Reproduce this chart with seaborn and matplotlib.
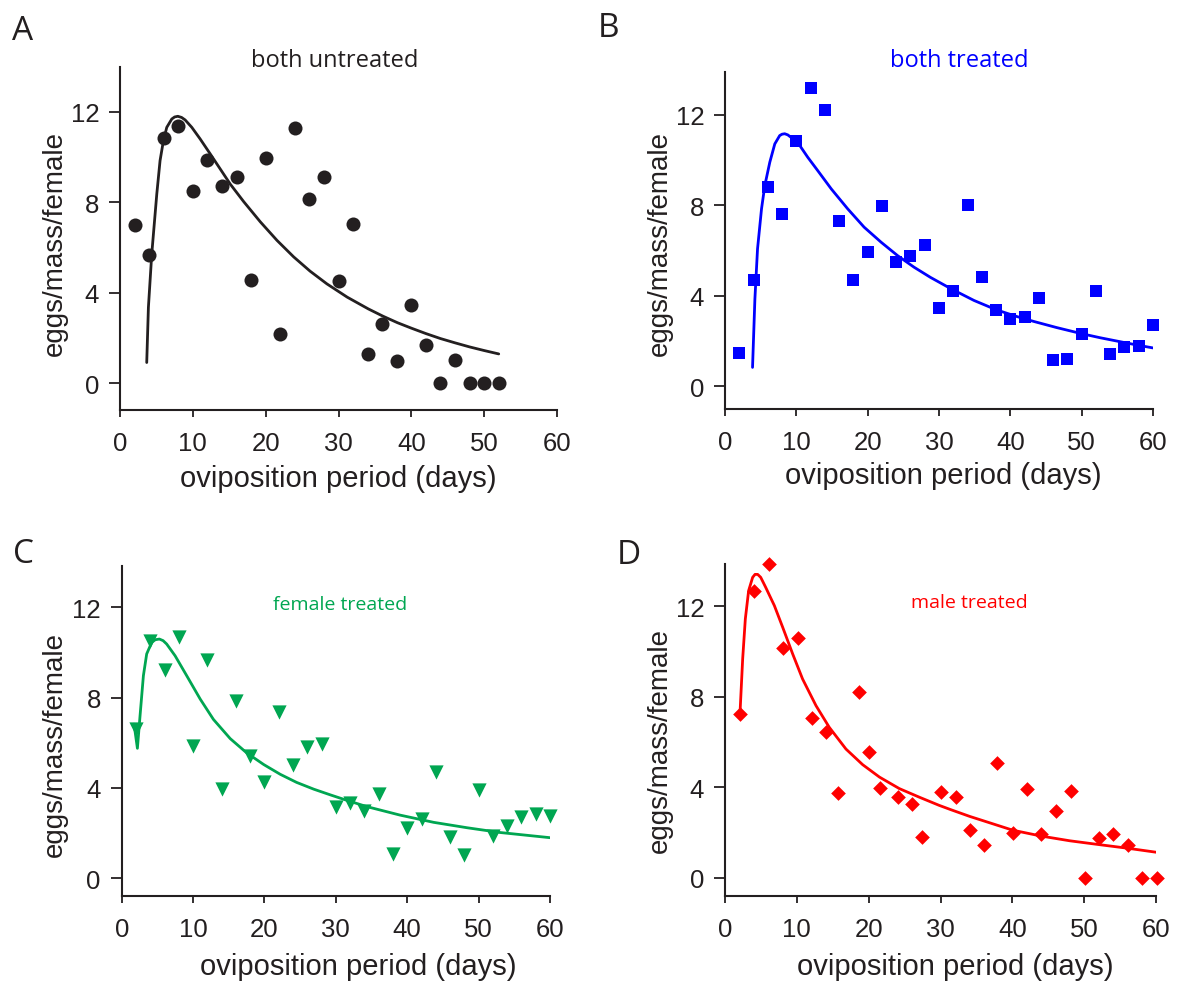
import matplotlib
matplotlib.use("Agg")
import matplotlib.pyplot as plt
import seaborn as sns

# ---------------- data ----------------
days_A = [2, 4, 6, 8, 10, 12, 14, 16, 18, 20, 22, 24, 26, 28, 30, 32, 34, 36,
          38, 40, 42, 44, 46, 48, 50, 52]
eggs_A = [7.0, 5.65, 10.85, 11.35, 8.5, 9.85, 8.7, 9.1, 4.55, 9.95, 2.15, 11.3,
          8.15, 9.1, 4.5, 7.05, 1.3, 2.6, 0.97, 3.45, 1.67, 0.0, 1.0, 0.0, 0.0, 0.0]
fit_days_A = [3.67, 3.9, 4.36, 5.05, 5.5, 5.96, 6.42, 7.11, 7.5, 7.94, 8.45, 8.94,
              9.86, 11.0, 12.4, 13.76, 15.14, 16.97, 19.27, 21.56, 23.85, 26.1,
              28.4, 31.2, 34.1, 36.1, 38.1, 40.0, 42.0, 44.0, 46.0, 48.0, 50.0, 52.0]
fit_eggs_A = [0.91, 3.35, 5.71, 8.36, 9.84, 10.72, 11.31, 11.68, 11.77, 11.8, 11.75,
              11.64, 11.31, 10.8, 10.13, 9.47, 8.8, 8.03, 7.13, 6.31, 5.58, 4.95,
              4.39, 3.8, 3.28, 2.96, 2.67, 2.43, 2.19, 1.97, 1.78, 1.6, 1.44, 1.29]

days_B = [2, 4, 6, 8, 10, 12, 14, 16, 18, 20, 22, 24, 26, 28, 30, 32, 34, 36,
          38, 40, 42, 44, 46, 48, 50, 52, 54, 56, 58, 60]
eggs_B = [1.46, 4.69, 8.8, 7.61, 10.84, 13.19, 12.23, 7.3, 4.69, 5.94, 7.99, 5.5,
          5.78, 6.25, 3.47, 4.2, 8.0, 4.85, 3.36, 3.0, 3.08, 3.89, 1.15, 1.19,
          2.3, 4.23, 1.42, 1.74, 1.8, 2.73]
fit_days_B = [3.86, 4.19, 4.56, 5.12, 5.58, 6.28, 6.98, 7.67, 8.0, 8.37, 8.8, 9.3,
              10.2, 11.6, 13.0, 14.9, 17.2, 19.5, 21.9, 24.2, 26.5, 28.8, 31.6,
              34.9, 38.0, 40.9, 43.3, 46.5, 50.0, 52.6, 55.8, 57.9, 60.0]
fit_eggs_B = [0.84, 3.86, 6.08, 7.85, 8.88, 9.91, 10.72, 11.09, 11.15, 11.17, 11.12,
              11.0, 10.78, 10.13, 9.54, 8.73, 7.85, 7.04, 6.37, 5.78, 5.27, 4.82,
              4.33, 3.8, 3.39, 3.09, 2.87, 2.6, 2.33, 2.15, 1.95, 1.82, 1.7]

days_C = [2, 4, 6, 8, 10, 12, 14, 16, 18, 20, 22, 24, 26, 28, 30, 32, 34, 36,
          38, 40, 42, 44, 46, 48, 50, 52, 54, 56, 58, 60]
eggs_C = [6.6, 10.5, 9.23, 10.66, 5.86, 9.67, 3.94, 7.86, 5.39, 4.24, 7.37, 5.02,
          5.83, 5.94, 3.15, 3.31, 2.98, 3.72, 1.06, 2.22, 2.64, 4.68, 1.83, 1.03,
          3.9, 1.85, 2.32, 2.72, 2.82, 2.73]
fit_days_C = [1.73, 2.2, 2.57, 3.04, 3.5, 4.2, 4.7, 5.28, 5.8, 6.3, 7.48, 9.1, 11.0,
              12.85, 15.2, 17.5, 19.9, 22.2, 24.5, 26.9, 29.2, 31.3, 34.3, 39.0,
              43.7, 48.4, 53.0, 60.0]
fit_eggs_C = [6.82, 5.75, 7.19, 8.97, 9.93, 10.44, 10.56, 10.59, 10.52, 10.37, 9.85,
              8.97, 7.93, 7.03, 6.18, 5.55, 5.03, 4.6, 4.24, 3.94, 3.69, 3.47, 3.17,
              2.79, 2.47, 2.23, 2.02, 1.79]

days_D = [2.1, 4.1, 6.1, 8.1, 10.1, 12.1, 14.05, 15.7, 18.6, 20.1, 21.6, 24.05,
          26.05, 27.4, 30.05, 32.1, 34.05, 36.05, 37.9, 40.05, 42.1, 44.05, 46.1,
          48.1, 50.1, 52.1, 54.05, 56.05, 58.1, 60.1]
eggs_D = [7.25, 12.67, 13.88, 10.15, 10.6, 7.06, 6.46, 3.73, 8.23, 5.55, 3.95,
          3.58, 3.26, 1.82, 3.78, 3.58, 2.12, 1.45, 5.09, 1.96, 3.92, 1.93, 2.94,
          3.85, 0.0, 1.74, 1.95, 1.46, 0.0, 0.0]
fit_days_D = [2.09, 2.46, 2.83, 3.29, 3.85, 4.18, 4.55, 4.97, 5.66, 6.87, 8.03, 9.42,
              10.8, 12.67, 14.52, 16.84, 19.16, 21.5, 24.27, 27.05, 29.8, 31.5,
              34.06, 40.05, 44.0, 48.0, 52.1, 56.06, 60.1]
fit_eggs_D = [7.29, 9.68, 11.45, 12.7, 13.29, 13.42, 13.42, 13.29, 12.85, 12.04,
              11.08, 9.9, 8.79, 7.61, 6.65, 5.69, 5.0, 4.45, 3.94, 3.56, 3.2, 3.0,
              2.71, 2.1, 1.84, 1.63, 1.46, 1.3, 1.12]

panel_letters = ["A", "B", "C", "D"]
panel_titles = ["both untreated", "both treated", "female treated", "male treated"]
x_ticks = [0, 10, 20, 30, 40, 50, 60]
y_ticks = [0, 4, 8, 12]
x_label = "oviposition period (days)"
y_label = "eggs/mass/female"

# ---------------- style ----------------
sns.set_theme(style="ticks")
plt.rcParams["font.family"] = ["Liberation Sans", "DejaVu Sans"]
INK = "#231f20"
plt.rcParams["axes.edgecolor"] = INK
plt.rcParams["text.color"] = INK
plt.rcParams["lines.solid_capstyle"] = "round"
plt.rcParams["lines.solid_joinstyle"] = "round"
TITLE_FONT = ["Open Sans", "DejaVu Sans"]

W, H = 1191, 987
fig = plt.figure(figsize=(W / 100, H / 100), dpi=100)

panels = [
    dict(days=days_A, eggs=eggs_A, fx=fit_days_A, fy=fit_eggs_A, color=INK,
         marker="o", s=102, box=(120, 557, 68, 411), ylim=(-1.19, 13.98),
         title_xy=(0.492, 1.003), title_size=17, xlab=(0.5, -0.157),
         ylab=(-0.119, 0.488), letter_xy=(12, 40)),
    dict(days=days_B, eggs=eggs_B, fx=fit_days_B, fy=fit_eggs_B, color="#0000ff",
         marker="s", s=68, box=(725, 1153, 73, 410), ylim=(-1.0, 13.9),
         title_xy=(0.547, 1.018), title_size=17, xlab=(0.51, -0.155),
         ylab=(-0.121, 0.493), letter_xy=(598, 37)),
    dict(days=days_C, eggs=eggs_C, fx=fit_days_C, fy=fit_eggs_C, color="#00a651",
         marker="v", s=105, box=(121.7, 550, 566.7, 896.7), ylim=(-0.78, 13.84),
         title_xy=(0.51, 0.869), title_size=14, xlab=(0.552, -0.17),
         ylab=(-0.125, 0.46), letter_xy=(13, 563)),
    dict(days=days_D, eggs=eggs_D, fx=fit_days_D, fy=fit_eggs_D, color="#ff0000",
         marker="D", s=56, box=(725, 1156, 565, 896.7), ylim=(-0.8, 13.88),
         title_xy=(0.566, 0.870), title_size=14, xlab=(0.534, -0.17),
         ylab=(-0.12, 0.472), letter_xy=(617, 564)),
]

for p, letter, title in zip(panels, panel_letters, panel_titles):
    x0, x1, yt, yb = p["box"]
    ax = fig.add_axes([x0 / W, 1 - yb / H, (x1 - x0) / W, (yb - yt) / H])
    sns.lineplot(x=p["fx"], y=p["fy"], ax=ax, color=p["color"], lw=2.0,
                 sort=False, estimator=None, zorder=2)
    sns.scatterplot(x=p["days"], y=p["eggs"], ax=ax, color=p["color"],
                    marker=p["marker"], s=p["s"], linewidth=0, zorder=3,
                    clip_on=False)
    ax.set_xlim(0, 60)
    ax.set_ylim(*p["ylim"])
    ax.set_xticks(x_ticks)
    ax.set_yticks(y_ticks)
    sns.despine(ax=ax)
    for sp in ax.spines.values():
        sp.set_linewidth(1.5)
        sp.set_color(INK)
    ax.tick_params(axis="x", length=5, width=1.3, pad=10, labelsize=18.5,
                   colors=INK)
    ax.tick_params(axis="y", length=8, width=1.3, pad=7, labelsize=18.5,
                   colors=INK)
    ax.set_xlabel(x_label, fontsize=21, color=INK)
    ax.set_ylabel(y_label, fontsize=20, color=INK)
    ax.xaxis.set_label_coords(*p["xlab"])
    ax.yaxis.set_label_coords(*p["ylab"])
    ax.text(p["title_xy"][0], p["title_xy"][1], title, transform=ax.transAxes,
            ha="center", va="baseline", fontsize=p["title_size"],
            color=p["color"], family=TITLE_FONT)
    fig.text(p["letter_xy"][0] / W, 1 - p["letter_xy"][1] / H, letter,
             ha="left", va="baseline", fontsize=24, color=INK,
             family=TITLE_FONT)

fig.savefig("out.png", dpi=100)
